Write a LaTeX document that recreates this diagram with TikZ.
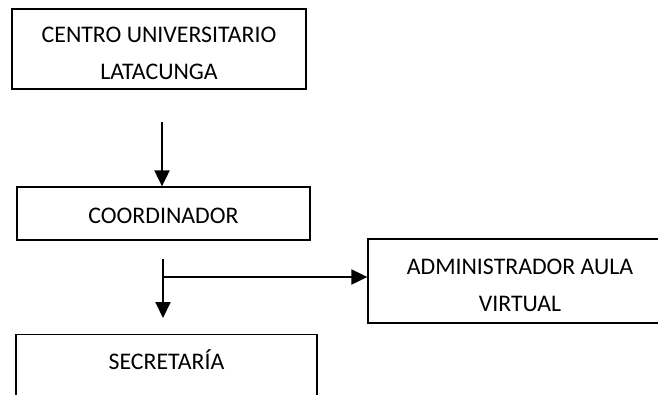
\documentclass[tikz,border=0pt]{standalone}
\usepackage{fontspec}
\setmainfont{Carlito}
\usetikzlibrary{arrows.meta,positioning}
\newcommand{\padtop}[1]{\rule{0pt}{#1}}

\begin{document}
\begin{tikzpicture}[
  x=1pt, y=-1pt,
  unit/.style={
    draw=black,
    line width=1.3pt,
    inner sep=0pt,
    align=center,
    font=\fontsize{23.8}{37}\selectfont
  },
  arrow/.style={-{Triangle[length=16pt,width=15pt]},line width=2pt}
]
\useasboundingbox (0,0) rectangle (658,394);
\clip (0,0) rectangle (658,394);
\node[unit,minimum width=294pt,minimum height=80pt] (centro) at (159,49) {\padtop{25pt}CENTRO UNIVERSITARIO\\LATACUNGA};
\node[unit,minimum width=293pt,minimum height=53pt] (coord) at (163.5,213.5) {\padtop{19.5pt}COORDINADOR};
\node[unit,minimum width=304pt,minimum height=84pt] (admin) at (520,281) {\padtop{25pt}ADMINISTRADOR AULA\\VIRTUAL};
\node[unit,minimum width=301pt,minimum height=84pt,anchor=north] (secre) at (166.5,334) {\padtop{22pt}SECRETARÍA\\\mbox{}};
\coordinate (start) at (162,122);
\coordinate (fork) at (163,259);
\coordinate (branch) at (163,277);
\coordinate (stop) at (163,318);
\draw[arrow] (start) -- (start |- coord.north);
\draw[arrow] (fork) -- (stop);
\draw[arrow] (branch) -- (branch -| admin.west);
\end{tikzpicture}
\end{document}
